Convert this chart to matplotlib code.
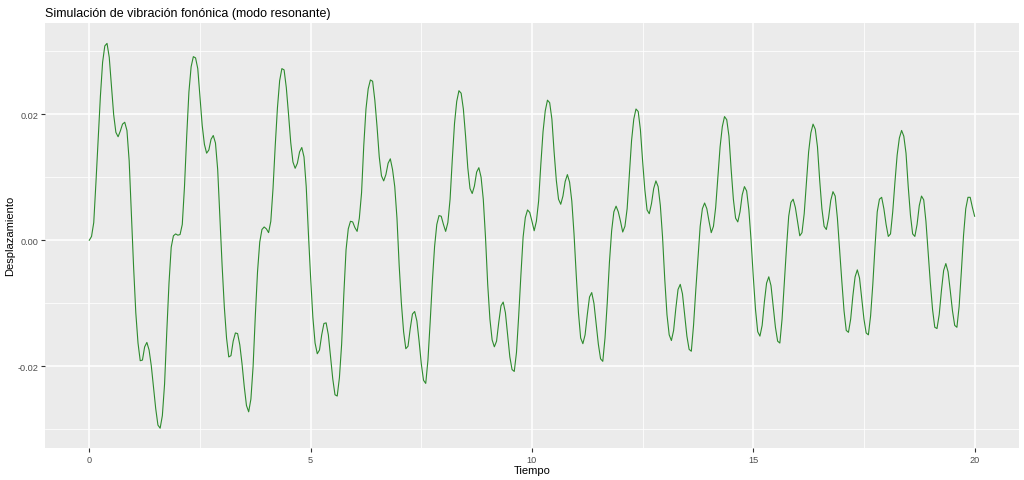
import matplotlib
matplotlib.use('Agg')
import matplotlib.pyplot as plt
import numpy as np
from matplotlib.ticker import MultipleLocator, FormatStrFormatter

# desplazamiento, cada 0.05 s, un bloque por ciclo de 2 s
ciclo_1 = [0.0, 0.0006, 0.0028, 0.0092, 0.0161, 0.0228, 0.0282, 0.0308, 0.0312, 0.0290,
           0.0244, 0.0199, 0.0171, 0.0164, 0.0173, 0.0184, 0.0187, 0.0174, 0.0126, 0.0041,
           -0.0042, -0.0115, -0.0163, -0.0191, -0.0190, -0.0169, -0.0162, -0.0174, -0.0199, -0.0233,
           -0.0267, -0.0293, -0.0298, -0.0278, -0.0228, -0.0145, -0.0068, -0.0011, 0.0007, 0.0010]
ciclo_2 = [0.0008, 0.0009, 0.0025, 0.0085, 0.0165, 0.0235, 0.0275, 0.0291, 0.0289, 0.0272,
           0.0228, 0.0182, 0.0152, 0.0138, 0.0143, 0.0160, 0.0166, 0.0154, 0.0112, 0.0035,
           -0.0040, -0.0106, -0.0155, -0.0185, -0.0183, -0.0160, -0.0147, -0.0148, -0.0166, -0.0196,
           -0.0232, -0.0262, -0.0272, -0.0252, -0.0200, -0.0120, -0.0050, -0.0003, 0.0017, 0.0021]
ciclo_3 = [0.0018, 0.0012, 0.0030, 0.0082, 0.0150, 0.0210, 0.0253, 0.0272, 0.0270, 0.0242,
           0.0200, 0.0155, 0.0124, 0.0114, 0.0122, 0.0140, 0.0147, 0.0132, 0.0085, 0.0010,
           -0.0060, -0.0122, -0.0163, -0.0180, -0.0174, -0.0150, -0.0132, -0.0131, -0.0150, -0.0185,
           -0.0220, -0.0245, -0.0247, -0.0218, -0.0165, -0.0085, -0.0015, 0.0018, 0.0030, 0.0029]
ciclo_4 = [0.0020, 0.0014, 0.0035, 0.0075, 0.0150, 0.0208, 0.0240, 0.0254, 0.0252, 0.0222,
           0.0180, 0.0132, 0.0102, 0.0094, 0.0104, 0.0122, 0.0129, 0.0112, 0.0085, 0.0035,
           -0.0040, -0.0100, -0.0145, -0.0172, -0.0168, -0.0140, -0.0117, -0.0113, -0.0128, -0.0160,
           -0.0196, -0.0222, -0.0227, -0.0190, -0.0130, -0.0065, -0.0010, 0.0025, 0.0039, 0.0038]
ciclo_5 = [0.0025, 0.0014, 0.0028, 0.0065, 0.0128, 0.0185, 0.0220, 0.0237, 0.0233, 0.0208,
           0.0165, 0.0115, 0.0082, 0.0074, 0.0086, 0.0108, 0.0115, 0.0100, 0.0065, 0.0005,
           -0.0070, -0.0125, -0.0158, -0.0169, -0.0160, -0.0130, -0.0104, -0.0098, -0.0115, -0.0150,
           -0.0185, -0.0205, -0.0208, -0.0178, -0.0120, -0.0055, 0.0005, 0.0036, 0.0048, 0.0044]
ciclo_6 = [0.0030, 0.0015, 0.0030, 0.0062, 0.0120, 0.0172, 0.0205, 0.0222, 0.0218, 0.0192,
           0.0140, 0.0095, 0.0065, 0.0057, 0.0070, 0.0093, 0.0104, 0.0092, 0.0062, 0.0010,
           -0.0055, -0.0115, -0.0155, -0.0164, -0.0150, -0.0118, -0.0090, -0.0083, -0.0100, -0.0132,
           -0.0165, -0.0188, -0.0192, -0.0155, -0.0100, -0.0035, 0.0015, 0.0045, 0.0054, 0.0045]
ciclo_7 = [0.0030, 0.0013, 0.0022, 0.0050, 0.0105, 0.0158, 0.0192, 0.0208, 0.0204, 0.0175,
           0.0125, 0.0080, 0.0048, 0.0042, 0.0058, 0.0082, 0.0094, 0.0085, 0.0055, 0.0005,
           -0.0062, -0.0118, -0.0150, -0.0159, -0.0143, -0.0108, -0.0078, -0.0070, -0.0085, -0.0118,
           -0.0152, -0.0173, -0.0176, -0.0135, -0.0080, -0.0030, 0.0022, 0.0050, 0.0059, 0.0050]
ciclo_8 = [0.0030, 0.0012, 0.0022, 0.0052, 0.0100, 0.0148, 0.0180, 0.0196, 0.0191, 0.0165,
           0.0112, 0.0065, 0.0035, 0.0029, 0.0045, 0.0072, 0.0085, 0.0078, 0.0048, 0.0000,
           -0.0058, -0.0110, -0.0145, -0.0152, -0.0135, -0.0098, -0.0068, -0.0058, -0.0072, -0.0105,
           -0.0138, -0.0160, -0.0163, -0.0125, -0.0068, -0.0012, 0.0038, 0.0060, 0.0065, 0.0052]
ciclo_9 = [0.0030, 0.0007, 0.0012, 0.0042, 0.0090, 0.0140, 0.0170, 0.0184, 0.0176, 0.0148,
           0.0095, 0.0050, 0.0022, 0.0017, 0.0035, 0.0063, 0.0077, 0.0070, 0.0035, -0.0015,
           -0.0065, -0.0112, -0.0143, -0.0146, -0.0125, -0.0088, -0.0058, -0.0047, -0.0060, -0.0092,
           -0.0125, -0.0147, -0.0150, -0.0120, -0.0070, -0.0010, 0.0045, 0.0065, 0.0068, 0.0050]
ciclo_10 = [0.0025, 0.0006, 0.0010, 0.0045, 0.0092, 0.0135, 0.0162, 0.0174, 0.0165, 0.0138,
            0.0085, 0.0040, 0.0010, 0.0006, 0.0025, 0.0055, 0.0070, 0.0064, 0.0030, -0.0020,
            -0.0068, -0.0110, -0.0138, -0.0140, -0.0118, -0.0080, -0.0048, -0.0037, -0.0050, -0.0080,
            -0.0112, -0.0135, -0.0138, -0.0105, -0.0050, 0.0008, 0.0050, 0.0068, 0.0068, 0.0052]
valor_final = [0.0038]

desplazamiento = (ciclo_1 + ciclo_2 + ciclo_3 + ciclo_4 + ciclo_5 + ciclo_6 + ciclo_7
                  + ciclo_8 + ciclo_9 + ciclo_10 + valor_final)
tiempo = np.linspace(0, 20, len(desplazamiento))

plt.rcParams['font.family'] = ['Liberation Sans', 'DejaVu Sans']

fig = plt.figure(figsize=(10.24, 4.81), dpi=100)
ax = fig.add_axes([0.044, 0.067, 0.951, 0.884])
ax.set_facecolor('#EBEBEB')

ax.plot(tiempo, desplazamiento, color='#2E8B2E', lw=0.8, zorder=3)

ax.set_xlim(-1.0, 21.0)
ax.set_ylim(-0.0329, 0.0345)
ax.xaxis.set_major_locator(MultipleLocator(5))
ax.xaxis.set_minor_locator(MultipleLocator(2.5))
ax.yaxis.set_major_locator(MultipleLocator(0.02))
ax.yaxis.set_minor_locator(MultipleLocator(0.01))
ax.yaxis.set_major_formatter(FormatStrFormatter('%.2f'))

ax.grid(which='major', color='white', lw=1.1, zorder=0)
ax.grid(which='minor', color='white', lw=0.55, zorder=0)
ax.set_axisbelow(True)
for s in ax.spines.values():
    s.set_visible(False)

ax.tick_params(which='major', length=3, width=0.8, color='#333333',
               labelsize=6.6, labelcolor='#4D4D4D', pad=2)
ax.tick_params(which='minor', length=0)

ax.set_xlabel('Tiempo', fontsize=8, labelpad=1)
ax.set_ylabel('Desplazamiento', fontsize=8, labelpad=1.5)
ax.set_title('Simulación de vibración fonónica (modo resonante)', fontsize=9,
             loc='left', pad=5)

fig.savefig('out.png', dpi=100)
